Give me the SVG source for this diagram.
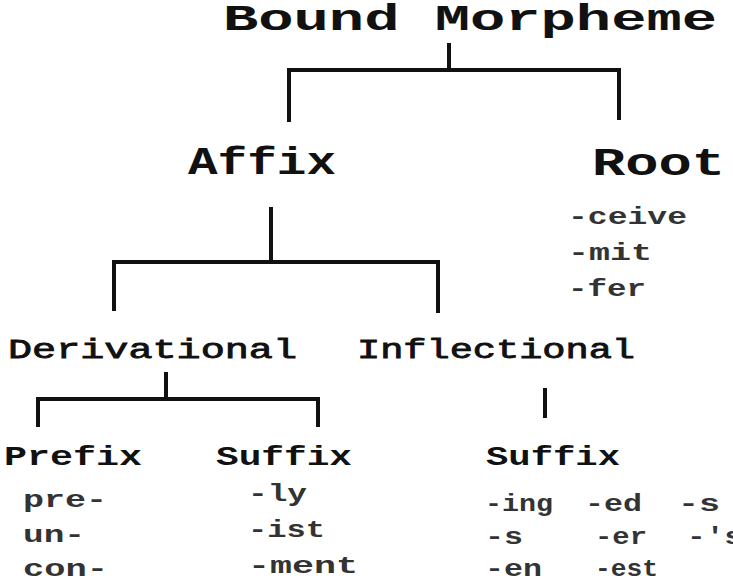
<svg xmlns="http://www.w3.org/2000/svg" width="733" height="583" viewBox="0 0 733 583">
<style>
text{font-family:"Liberation Mono","Courier New",monospace;fill:#111;}
.h1{font-size:37px;font-weight:bold;}
.h2{font-size:38px;font-weight:bold;}
.h3{font-size:27px;font-weight:normal;stroke:#111;stroke-width:0.8px;}
.h4{font-size:28px;font-weight:bold;}
.it{font-size:23px;font-weight:bold;fill:#333;}
.c{stroke:#111;stroke-width:4;fill:none;stroke-linecap:butt;}
</style>
<rect width="733" height="583" fill="#fff"/>
<g id="connectors">
<path class="c" d="M449 43V70M287 70H621M289 70V122M619 70V120"/>
<path class="c" d="M271 207V262M112 262H440M114 262V311M438 262V313"/>
<path class="c" d="M166 372V399M36 399H320M38 399V427M318 399V427"/>
<path class="c" d="M545 388V418"/>
</g>
<g id="bound-morpheme"><text class="h1" x="223" y="30" textLength="494" lengthAdjust="spacingAndGlyphs">Bound Morpheme</text></g>
<g id="affix"><text class="h2" x="188" y="174" textLength="148" lengthAdjust="spacingAndGlyphs">Affix</text></g>
<g id="root"><text class="h2" x="592" y="175" textLength="133" lengthAdjust="spacingAndGlyphs">Root</text>
<text class="it" x="568" y="224" textLength="119" lengthAdjust="spacingAndGlyphs">-ceive</text>
<text class="it" x="568" y="260" textLength="84" lengthAdjust="spacingAndGlyphs">-mit</text>
<text class="it" x="568" y="296" textLength="78" lengthAdjust="spacingAndGlyphs">-fer</text></g>
<g id="derivational"><text class="h3" x="8" y="358" textLength="289" lengthAdjust="spacingAndGlyphs">Derivational</text></g>
<g id="inflectional"><text class="h3" x="357" y="358" textLength="278" lengthAdjust="spacingAndGlyphs">Inflectional</text></g>
<g id="prefix"><text class="h4" x="4" y="465" textLength="138" lengthAdjust="spacingAndGlyphs">Prefix</text>
<text class="it" x="23" y="507" textLength="84" lengthAdjust="spacingAndGlyphs">pre-</text>
<text class="it" x="23" y="542" textLength="62" lengthAdjust="spacingAndGlyphs">un-</text>
<text class="it" x="23" y="576" textLength="85" lengthAdjust="spacingAndGlyphs">con-</text></g>
<g id="derivational-suffix"><text class="h4" x="216" y="465" textLength="136" lengthAdjust="spacingAndGlyphs">Suffix</text>
<text class="it" x="248" y="501" textLength="59" lengthAdjust="spacingAndGlyphs">-ly</text>
<text class="it" x="248" y="537" textLength="77" lengthAdjust="spacingAndGlyphs">-ist</text>
<text class="it" x="248" y="573" textLength="110" lengthAdjust="spacingAndGlyphs">-ment</text></g>
<g id="inflectional-suffix"><text class="h4" x="486" y="465" textLength="134" lengthAdjust="spacingAndGlyphs">Suffix</text>
<text class="it" x="485" y="511" textLength="68" lengthAdjust="spacingAndGlyphs">-ing</text>
<text class="it" x="585" y="511" textLength="57" lengthAdjust="spacingAndGlyphs">-ed</text>
<text class="it" x="678" y="511" textLength="42" lengthAdjust="spacingAndGlyphs">-s</text>
<text class="it" x="485" y="544" textLength="38" lengthAdjust="spacingAndGlyphs">-s</text>
<text class="it" x="595" y="544" textLength="52" lengthAdjust="spacingAndGlyphs">-er</text>
<text class="it" x="687" y="544" textLength="56" lengthAdjust="spacingAndGlyphs">-'s</text>
<text class="it" x="485" y="576" textLength="57" lengthAdjust="spacingAndGlyphs">-en</text>
<text class="it" x="595" y="576" textLength="63" lengthAdjust="spacingAndGlyphs">-est</text></g>
</svg>
